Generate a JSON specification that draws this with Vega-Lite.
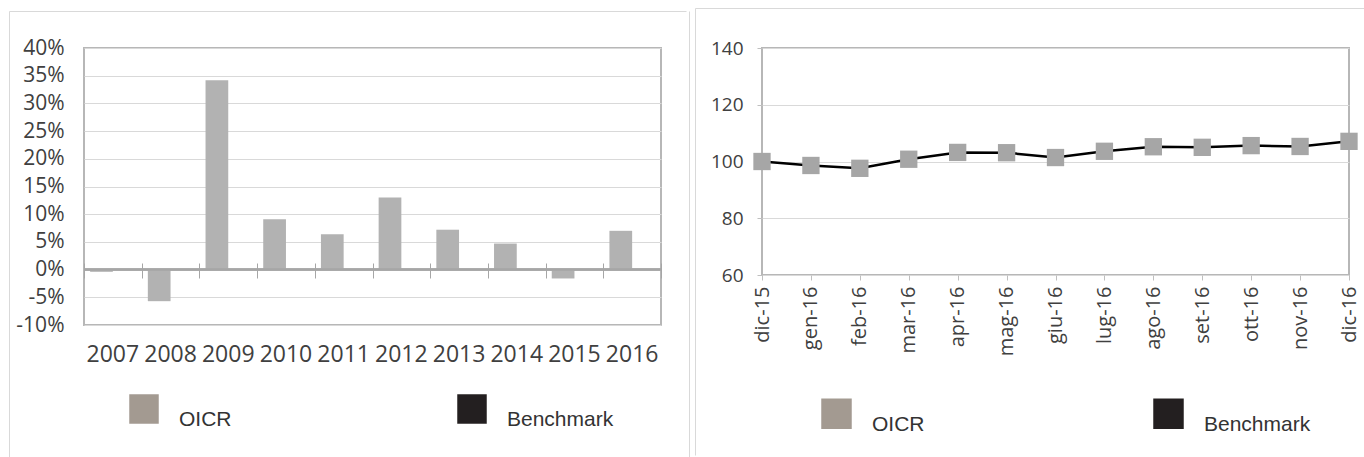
{
  "$schema": "https://vega.github.io/schema/vega-lite/v6.json",
  "background": "white",
  "padding": {"left": 8, "top": 7, "right": 0, "bottom": 0},
  "bounds": "full",
  "spacing": -77,
  "resolve": {"scale": {"color": "independent"}, "legend": {"color": "independent"}},
  "config": {
    "view": {"stroke": "#b7b7b7", "strokeWidth": 2},
    "axis": {"labelFont": "Open Sans", "labelColor": "#404040", "grid": false, "title": null, "labelOverlap": false},
    "legend": {
      "orient": "none",
      "direction": "horizontal",
      "title": null,
      "symbolType": "square",
      "symbolSize": 870,
      "symbolStrokeWidth": 0,
      "labelFont": "Liberation Sans",
      "labelFontSize": 21,
      "labelColor": "#333333",
      "labelOffset": 20,
      "labelBaseline": "top",
      "columnPadding": 225
    },
    "locale": {"number": {"decimal": ".", "thousands": ",", "grouping": [3], "currency": ["", ""], "minus": "-"}}
  },
  "hconcat": [
    {
      "width": 577,
      "height": 277,
      "data": {"values": [
        {"year": "2007", "value": -0.004, "series": "OICR"},
        {"year": "2008", "value": -0.057, "series": "OICR"},
        {"year": "2009", "value": 0.342, "series": "OICR"},
        {"year": "2010", "value": 0.091, "series": "OICR"},
        {"year": "2011", "value": 0.064, "series": "OICR"},
        {"year": "2012", "value": 0.130, "series": "OICR"},
        {"year": "2013", "value": 0.072, "series": "OICR"},
        {"year": "2014", "value": 0.047, "series": "OICR"},
        {"year": "2015", "value": -0.016, "series": "OICR"},
        {"year": "2016", "value": 0.070, "series": "OICR"}
      ]},
      "layer": [
        {
          "layer": [
            {
              "mark": {"type": "bar", "color": "#b2b2b2"},
              "encoding": {
                "x": {"field": "year", "type": "ordinal",
                      "scale": {"paddingInner": 0, "paddingOuter": 0},
                      "axis": {"orient": "bottom", "title": null, "ticks": false, "domain": false, "labelAngle": 0,
                               "labelFontSize": 23, "labelPadding": 18, "grid": false}},
                "xOffset": {"field": "series", "type": "nominal",
                            "scale": {"domain": ["OICR", "Benchmark"], "paddingInner": 0, "paddingOuter": 0.27}},
                "y": {"field": "value", "type": "quantitative",
                      "scale": {"domain": [-0.1, 0.4], "nice": false},
                      "axis": {"title": null, "values": [-0.1, -0.05, 0, 0.05, 0.1, 0.15, 0.2, 0.25, 0.3, 0.35, 0.4],
                               "format": ".0%", "ticks": false, "domain": false, "grid": true, "gridColor": "#d9d9d9",
                               "labelFontSize": 21, "labelPadding": 20, "labelOverlap": false}}
              }
            },
            {
              "mark": {"type": "rule", "color": "#a6a6a6", "strokeWidth": 1.5},
              "encoding": {"y": {"datum": 0, "type": "quantitative",
                      "axis": {"title": null, "values": [-0.1, -0.05, 0, 0.05, 0.1, 0.15, 0.2, 0.25, 0.3, 0.35, 0.4],
                               "format": ".0%", "ticks": false, "domain": false, "grid": true, "gridColor": "#d9d9d9",
                               "labelFontSize": 21, "labelPadding": 20, "labelOverlap": false}}}
            },
            {
              "mark": {"type": "square", "opacity": 0},
              "encoding": {
                "x": {"field": "year", "type": "ordinal",
                      "axis": {"orient": "bottom", "offset": -62, "tickBand": "extent", "tickSize": 15,
                               "tickColor": "#a6a6a6", "labels": false, "domain": false, "title": null, "grid": false}},
                "y": {"field": "value", "type": "quantitative",
                      "axis": {"title": null, "values": [-0.1, -0.05, 0, 0.05, 0.1, 0.15, 0.2, 0.25, 0.3, 0.35, 0.4],
                               "format": ".0%", "ticks": false, "domain": false, "grid": true, "gridColor": "#d9d9d9",
                               "labelFontSize": 21, "labelPadding": 20, "labelOverlap": false}},
                "color": {"field": "series", "type": "nominal",
                          "scale": {"domain": ["OICR", "Benchmark"], "range": ["#a39a91", "#231f20"]},
                          "legend": {"legendX": 45, "legendY": 346}}
              }
            }
          ],
          "resolve": {"axis": {"x": "independent"}}
        },
        {
          "mark": {"type": "point", "opacity": 0},
          "encoding": {
            "x": {"field": "year", "type": "ordinal", "scale": {"type": "point", "range": [-75, 602]},
                  "axis": {"orient": "top", "offset": 37, "domain": true, "domainColor": "#d9d9d9", "domainWidth": 1,
                           "ticks": false, "labels": false, "title": null, "grid": false}},
            "y": {"field": "value", "type": "quantitative", "scale": {"range": [410, -37]},
                  "axis": {"orient": "left", "offset": 75, "domain": true, "domainColor": "#d9d9d9", "domainWidth": 1,
                           "ticks": false, "labels": false, "title": null, "grid": false}}
          }
        },
        {
          "mark": {"type": "point", "opacity": 0},
          "encoding": {
            "y": {"field": "value", "type": "quantitative", "scale": {"range": [410, -37]},
                  "axis": {"orient": "right", "offset": 28, "domain": true, "domainColor": "#d9d9d9", "domainWidth": 1,
                           "ticks": false, "labels": false, "title": null, "grid": false}}
          }
        }
      ],
      "resolve": {"scale": {"x": "independent", "y": "independent"}, "axis": {"x": "independent", "y": "independent"}}
    },
    {
      "width": 587,
      "height": 227,
      "data": {"values": [
        {"month": "dic-15", "value": 100.0, "series": "OICR"},
        {"month": "gen-16", "value": 98.6, "series": "OICR"},
        {"month": "feb-16", "value": 97.6, "series": "OICR"},
        {"month": "mar-16", "value": 100.8, "series": "OICR"},
        {"month": "apr-16", "value": 103.2, "series": "OICR"},
        {"month": "mag-16", "value": 103.1, "series": "OICR"},
        {"month": "giu-16", "value": 101.4, "series": "OICR"},
        {"month": "lug-16", "value": 103.6, "series": "OICR"},
        {"month": "ago-16", "value": 105.2, "series": "OICR"},
        {"month": "set-16", "value": 105.0, "series": "OICR"},
        {"month": "ott-16", "value": 105.6, "series": "OICR"},
        {"month": "nov-16", "value": 105.3, "series": "OICR"},
        {"month": "dic-16", "value": 107.1, "series": "OICR"}
      ]},
      "layer": [
        {
          "layer": [
            {
              "mark": {"type": "line", "color": "#000000", "strokeWidth": 2.5},
              "encoding": {
                "x": {"field": "month", "type": "ordinal", "sort": null, "scale": {"type": "point", "padding": 0},
                      "axis": {"orient": "bottom", "title": null, "labelAngle": -90, "tickSize": 5, "tickColor": "#bfbfbf",
                               "labelPadding": 6, "labelFontSize": 20, "domain": false, "grid": false}},
                "y": {"field": "value", "type": "quantitative", "scale": {"domain": [60, 140], "nice": false, "zero": false},
                      "axis": {"title": null, "values": [60, 80, 100, 120, 140], "grid": true, "gridColor": "#d9d9d9",
                               "tickSize": 5, "tickColor": "#bfbfbf", "labelPadding": 14, "labelFontSize": 19, "domain": false}}
              }
            },
            {
              "mark": {"type": "square", "color": "#a6a6a6", "size": 300, "opacity": 1, "filled": true},
              "encoding": {
                "x": {"field": "month", "type": "ordinal", "sort": null},
                "y": {"field": "value", "type": "quantitative"}
              }
            },
            {
              "mark": {"type": "square", "opacity": 0},
              "encoding": {
                "x": {"field": "month", "type": "ordinal", "sort": null},
                "y": {"field": "value", "type": "quantitative"},
                "color": {"field": "series", "type": "nominal",
                          "scale": {"domain": ["OICR", "Benchmark"], "range": ["#a39a91", "#231f20"]},
                          "legend": {"legendX": 59, "legendY": 350, "columnPadding": 228, "symbolSize": 930}}
              }
            }
          ]
        },
        {
          "mark": {"type": "point", "opacity": 0},
          "encoding": {
            "x": {"field": "month", "type": "ordinal", "sort": null, "scale": {"type": "point", "range": [-67, 602]},
                  "axis": {"orient": "top", "offset": 40, "domain": true, "domainColor": "#d9d9d9", "domainWidth": 1,
                           "ticks": false, "labels": false, "title": null, "grid": false}},
            "y": {"field": "value", "type": "quantitative", "scale": {"range": [407, -40]},
                  "axis": {"orient": "left", "offset": 67, "domain": true, "domainColor": "#d9d9d9", "domainWidth": 1,
                           "ticks": false, "labels": false, "title": null, "grid": false}}
          }
        }
      ],
      "resolve": {"scale": {"x": "independent", "y": "independent"}, "axis": {"x": "independent", "y": "independent"}}
    }
  ]
}
